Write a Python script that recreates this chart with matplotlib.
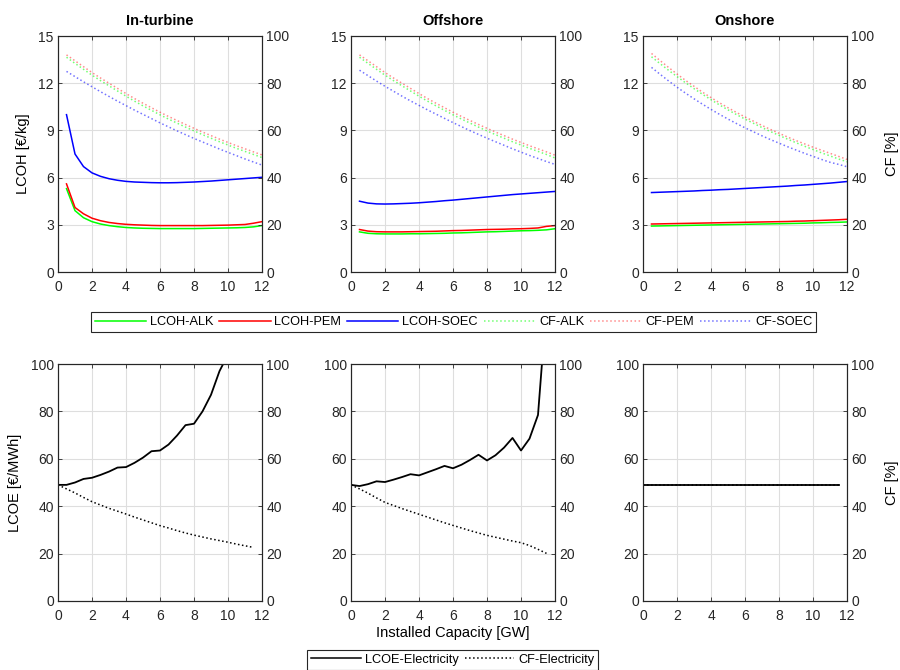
import matplotlib
matplotlib.use("Agg")
import matplotlib.pyplot as plt
from matplotlib.lines import Line2D

plt.rcParams["font.family"] = ["Liberation Sans", "DejaVu Sans"]

# ---- data: top row (hydrogen), x = installed capacity [GW] ----
x_h = [0.5, 1, 1.5, 2, 2.5, 3, 3.5, 4, 4.5, 5, 5.5, 6, 6.5, 7, 7.5, 8,
       8.5, 9, 9.5, 10, 10.5, 11, 11.5, 12]

# In-turbine
it_alk = [5.3, 3.9, 3.45, 3.2, 3.05, 2.95, 2.88, 2.83, 2.8, 2.78, 2.77, 2.76,
          2.76, 2.76, 2.76, 2.76, 2.77, 2.78, 2.79, 2.8, 2.81, 2.83, 2.87, 2.95]
it_pem = [5.6, 4.1, 3.7, 3.42, 3.26, 3.15, 3.08, 3.03, 3.0, 2.98, 2.96, 2.95,
          2.95, 2.95, 2.95, 2.95, 2.95, 2.96, 2.97, 2.98, 3.0, 3.02, 3.1, 3.2]
it_soec = [10.0, 7.5, 6.7, 6.3, 6.08, 5.93, 5.83, 5.76, 5.72, 5.7, 5.68, 5.67,
           5.67, 5.68, 5.7, 5.72, 5.75, 5.78, 5.82, 5.86, 5.9, 5.94, 5.98, 6.02]
it_cf_alk = [91.0, 88.4, 85.9, 83.4, 81.1, 78.9, 76.7, 74.5, 72.4, 70.4, 68.5, 66.6,
             64.8, 63.1, 61.4, 59.8, 58.2, 56.7, 55.2, 53.8, 52.4, 51.1, 49.8, 48.5]
it_cf_pem = [92.0, 89.5, 87.0, 84.5, 82.2, 80.0, 77.8, 75.6, 73.5, 71.5, 69.6, 67.7,
             65.9, 64.2, 62.5, 60.9, 59.3, 57.8, 56.3, 54.9, 53.5, 52.2, 50.9, 49.6]
it_cf_soec = [85.0, 82.8, 80.6, 78.5, 76.4, 74.4, 72.4, 70.5, 68.6, 66.8, 65.0, 63.2,
              61.5, 59.8, 58.2, 56.6, 55.1, 53.6, 52.1, 50.7, 49.3, 47.9, 46.6, 45.3]

# Offshore
off_alk = [2.55, 2.46, 2.43, 2.42, 2.42, 2.42, 2.43, 2.43, 2.44, 2.45, 2.46, 2.48,
           2.49, 2.51, 2.53, 2.55, 2.56, 2.58, 2.6, 2.62, 2.63, 2.65, 2.68, 2.75]
off_pem = [2.7, 2.6, 2.56, 2.55, 2.55, 2.55, 2.56, 2.57, 2.58, 2.59, 2.61, 2.63,
           2.64, 2.66, 2.68, 2.7, 2.71, 2.72, 2.74, 2.75, 2.77, 2.8, 2.9, 2.95]
off_soec = [4.5, 4.38, 4.33, 4.32, 4.33, 4.35, 4.37, 4.4, 4.44, 4.48, 4.53, 4.57,
            4.62, 4.67, 4.72, 4.77, 4.82, 4.87, 4.92, 4.96, 5.0, 5.04, 5.08, 5.12]
off_cf_alk = [91.0, 88.4, 85.9, 83.4, 81.1, 78.9, 76.7, 74.5, 72.4, 70.4, 68.5, 66.6,
              64.8, 63.1, 61.4, 59.8, 58.2, 56.7, 55.2, 53.8, 52.4, 51.1, 49.8, 48.3]
off_cf_pem = [92.0, 89.5, 87.0, 84.5, 82.2, 80.0, 77.8, 75.6, 73.5, 71.5, 69.6, 67.7,
              65.9, 64.2, 62.5, 60.9, 59.3, 57.8, 56.3, 54.9, 53.5, 52.2, 50.9, 49.5]
off_cf_soec = [85.5, 83.2, 80.9, 78.7, 76.6, 74.5, 72.5, 70.6, 68.7, 66.9, 65.1, 63.3,
               61.6, 59.9, 58.3, 56.7, 55.2, 53.7, 52.2, 50.8, 49.4, 48.1, 46.8, 45.6]

# Onshore
on_alk = [2.92, 2.93, 2.94, 2.95, 2.96, 2.97, 2.98, 2.99, 3.0, 3.01, 3.02, 3.03,
          3.04, 3.05, 3.06, 3.07, 3.08, 3.09, 3.1, 3.12, 3.13, 3.15, 3.16, 3.18]
on_pem = [3.05, 3.06, 3.07, 3.08, 3.09, 3.1, 3.11, 3.12, 3.13, 3.14, 3.15, 3.16,
          3.17, 3.18, 3.19, 3.2, 3.21, 3.23, 3.24, 3.26, 3.28, 3.3, 3.32, 3.35]
on_soec = [5.05, 5.07, 5.09, 5.11, 5.13, 5.15, 5.18, 5.2, 5.23, 5.25, 5.28, 5.31,
           5.34, 5.37, 5.4, 5.43, 5.46, 5.5, 5.53, 5.57, 5.61, 5.65, 5.7, 5.75]
on_cf_alk = [91.2, 88.3, 85.5, 82.8, 80.2, 77.7, 75.3, 73.0, 70.8, 68.7, 66.7, 64.8,
             63.0, 61.2, 59.5, 57.9, 56.3, 54.8, 53.3, 51.9, 50.5, 49.2, 47.9, 46.7]
on_cf_pem = [92.6, 89.6, 86.7, 83.9, 81.2, 78.7, 76.2, 73.9, 71.7, 69.6, 67.6, 65.7,
             63.9, 62.1, 60.4, 58.8, 57.2, 55.7, 54.3, 52.9, 51.6, 50.3, 49.0, 47.7]
on_cf_soec = [86.7, 83.8, 81.0, 78.3, 75.8, 73.4, 71.1, 68.9, 66.8, 64.8, 62.9, 61.1,
              59.4, 57.7, 56.1, 54.6, 53.1, 51.7, 50.3, 49.0, 47.7, 46.5, 45.6, 44.6]

# ---- data: bottom row (electricity) ----
x_e = [0, 0.5, 1, 1.5, 2, 2.5, 3, 3.5, 4, 4.5, 5, 5.5, 6, 6.5, 7, 7.5, 8,
       8.5, 9, 9.5, 10, 10.5, 11, 11.5]

it_lcoe = [49.0, 49.0, 50.0, 51.5, 52.0, 53.2, 54.6, 56.3, 56.5, 58.3, 60.5, 63.2,
           63.5, 66.0, 69.8, 74.2, 74.8, 80.0, 87.0, 97.0, 104.0, 112.0, 120.0, 130.0]
it_cf_e = [49.0, 47.3, 45.6, 43.7, 41.9, 40.5, 39.1, 37.9, 36.7, 35.4, 34.2, 33.0,
           31.8, 30.8, 29.7, 28.7, 27.8, 27.0, 26.2, 25.5, 24.8, 24.0, 23.3, 22.6]
off_lcoe = [49.0, 48.5, 49.3, 50.5, 50.2, 51.2, 52.3, 53.5, 53.0, 54.3, 55.6, 57.0,
            56.0, 57.5, 59.5, 61.7, 59.3, 61.5, 64.7, 68.8, 63.5, 68.5, 78.5, 125.0]
off_cf_e = [49.0, 47.3, 45.5, 43.5, 41.6, 40.3, 39.0, 37.8, 36.6, 35.4, 34.2, 33.0,
            31.9, 30.8, 29.7, 28.7, 27.7, 26.9, 26.1, 25.3, 24.6, 23.4, 21.8, 20.1]
on_lcoe = [49.0] * 24
on_cf_e = [49.0] * 24

titles = ["In-turbine", "Offshore", "Onshore"]
hydro = [(it_alk, it_pem, it_soec, it_cf_alk, it_cf_pem, it_cf_soec),
         (off_alk, off_pem, off_soec, off_cf_alk, off_cf_pem, off_cf_soec),
         (on_alk, on_pem, on_soec, on_cf_alk, on_cf_pem, on_cf_soec)]
elec = [(it_lcoe, it_cf_e), (off_lcoe, off_cf_e), (on_lcoe, on_cf_e)]

GREEN, RED, BLUE = "#00ff00", "#ff0000", "#0000ff"
EDGE = "#262626"
GRID = "#dedede"

fig = plt.figure(figsize=(9, 6.7), dpi=100)

lefts = [58 / 900, 351 / 900, 643 / 900]
width = 204 / 900
top_row = (1 - 272 / 670, 236 / 670)
bot_row = (1 - 601 / 670, 237 / 670)


def style(ax, ax2, ylim, yticks):
    ax.set_xlim(0, 12)
    ax.set_xticks(range(0, 13, 2))
    ax.set_ylim(*ylim)
    ax.set_yticks(yticks)
    ax2.set_ylim(0, 100)
    ax2.set_yticks(range(0, 101, 20))
    ax.grid(True, color=GRID, lw=0.8)
    ax.set_axisbelow(True)
    for a in (ax, ax2):
        for s in a.spines.values():
            s.set_color(EDGE)
            s.set_linewidth(0.8)
        a.tick_params(direction="in", length=3, colors=EDGE, labelsize=10,
                      width=0.6, pad=3)
    ax.tick_params(axis="x", top=True, pad=6)
    ax.tick_params(axis="y", right=False)


for i in range(3):
    alk, pem, soec, cfa, cfp, cfs = hydro[i]
    ax = fig.add_axes([lefts[i], top_row[0], width, top_row[1]])
    ax2 = ax.twinx()
    ax.plot(x_h, alk, color=GREEN, lw=1.1)
    ax.plot(x_h, pem, color=RED, lw=1.1)
    ax.plot(x_h, soec, color=BLUE, lw=1.1)
    ax2.plot(x_h, cfa, color=GREEN, lw=1.1, ls=":", alpha=0.55)
    ax2.plot(x_h, cfp, color=RED, lw=1.1, ls=":", alpha=0.45)
    ax2.plot(x_h, cfs, color=BLUE, lw=1.1, ls=":", alpha=0.55)
    style(ax, ax2, (0, 15), range(0, 16, 3))
    ax.set_title(titles[i], fontsize=10.5, fontweight="bold", pad=8)
    if i == 0:
        ax.set_ylabel("LCOH [€/kg]", fontsize=10.5, labelpad=6)
    if i == 2:
        ax2.set_ylabel("CF [%]", fontsize=10.5, labelpad=8)

    lcoe, cfe = elec[i]
    bx = fig.add_axes([lefts[i], bot_row[0], width, bot_row[1]])
    bx2 = bx.twinx()
    bx.plot(x_e, lcoe, color="black", lw=1.3)
    bx2.plot(x_e, cfe, color="black", lw=1.1, ls=":")
    style(bx, bx2, (0, 100), range(0, 101, 20))
    if i == 0:
        bx.set_ylabel("LCOE [€/MWh]", fontsize=10.5, labelpad=6)
    if i == 1:
        bx.set_xlabel("Installed Capacity [GW]", fontsize=10.5, labelpad=2)
    if i == 2:
        bx2.set_ylabel("CF [%]", fontsize=10.5, labelpad=8)

# ---- legends ----
h_top = [Line2D([], [], color=GREEN, lw=1.1),
         Line2D([], [], color=RED, lw=1.1),
         Line2D([], [], color=BLUE, lw=1.1),
         Line2D([], [], color=GREEN, lw=1.1, ls=":", alpha=0.55),
         Line2D([], [], color=RED, lw=1.1, ls=":", alpha=0.45),
         Line2D([], [], color=BLUE, lw=1.1, ls=":", alpha=0.55)]
lab_top = ["LCOH-ALK", "LCOH-PEM", "LCOH-SOEC", "CF-ALK", "CF-PEM", "CF-SOEC"]
leg1 = fig.legend(h_top, lab_top, loc="lower left", ncol=6, mode="expand",
                  bbox_to_anchor=(91 / 900, 1 - 332 / 670, 725 / 900, 21 / 670),
                  fontsize=9.2, handlelength=4.0, handletextpad=0.3,
                  columnspacing=0.6, borderaxespad=0, borderpad=0.3,
                  fancybox=False, edgecolor=EDGE, framealpha=1)
leg1.get_frame().set_linewidth(0.8)

h_bot = [Line2D([], [], color="black", lw=1.1),
         Line2D([], [], color="black", lw=1.1, ls=":")]
leg2 = fig.legend(h_bot, ["LCOE-Electricity", "CF-Electricity"], loc="upper left",
                  ncol=2, bbox_to_anchor=(307 / 900, 1 - 650 / 670),
                  fontsize=9.2, handlelength=3.9, handletextpad=0.3,
                  columnspacing=0.5, borderaxespad=0, borderpad=0.3,
                  fancybox=False, edgecolor=EDGE, framealpha=1)
leg2.get_frame().set_linewidth(0.8)

plt.savefig("out.png", dpi=100)
